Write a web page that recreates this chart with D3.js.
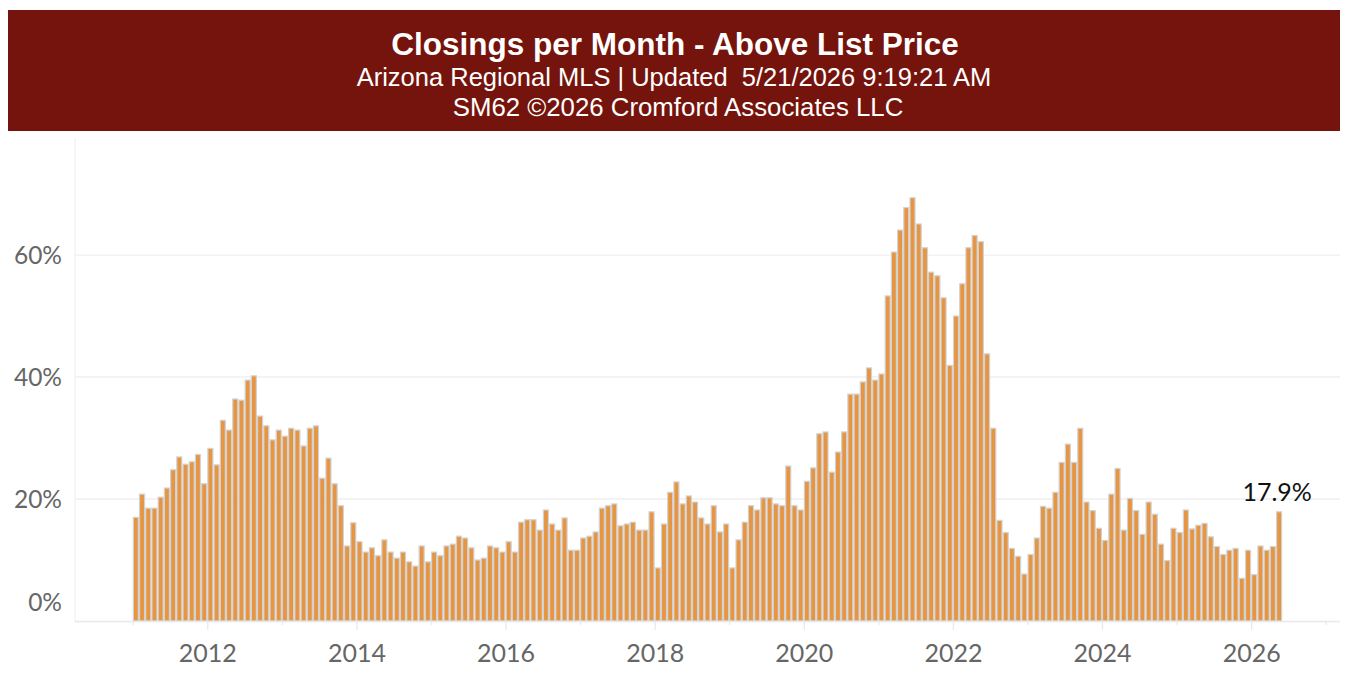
<!DOCTYPE html>
<html>
<head>
<meta charset="utf-8">
<script src="https://cdn.jsdelivr.net/npm/d3@7"></script>
<style>
  html, body { margin: 0; padding: 0; background: #ffffff; }
  svg { display: block; }
</style>
</head>
<body>
<svg id="chart" width="1352" height="694"></svg>
<script>
// ---------- DATA ----------
const titleText = "Closings per Month - Above List Price";
const subtitle1 = "Arizona Regional MLS | Updated  5/21/2026 9:19:21 AM";
const subtitle2 = "SM62 \u00A92026 Cromford Associates LLC";

const startYear = 2011;           // first bar = Jan 2011
const years = [2011, 2012, 2013, 2014, 2015, 2016, 2017, 2018, 2019, 2020, 2021, 2022, 2023, 2024, 2025, 2026, 2027];
const yearLabels = [2012, 2014, 2016, 2018, 2020, 2022, 2024, 2026];
const yTicks = [0, 20, 40, 60];

// percent of closings above list price, one value per month
const v2011 = [17.0, 20.8, 18.5, 18.5, 20.3, 21.8, 24.8, 26.9, 25.7, 26.1, 27.3, 22.5];
const v2012 = [28.3, 25.6, 32.9, 31.3, 36.4, 36.2, 39.5, 40.2, 33.6, 32.0, 29.7, 31.3];
const v2013 = [30.3, 31.6, 31.3, 28.7, 31.6, 32.0, 23.4, 26.7, 22.5, 18.9, 12.3, 16.1];
const v2014 = [13.0, 11.3, 12.0, 10.7, 13.3, 11.3, 10.3, 11.3, 9.7, 9.0, 12.3, 9.7];
const v2015 = [11.3, 10.7, 12.3, 12.6, 13.9, 13.6, 12.0, 10.0, 10.3, 12.3, 12.0, 11.3];
const v2016 = [13.0, 11.3, 16.2, 16.6, 16.6, 14.9, 18.2, 15.9, 14.9, 16.9, 11.6, 11.6];
const v2017 = [13.6, 13.9, 14.6, 18.5, 18.9, 19.2, 15.6, 15.9, 16.2, 14.9, 14.9, 17.9];
const v2018 = [8.7, 15.9, 21.1, 22.8, 19.2, 20.5, 19.5, 16.9, 15.9, 18.9, 14.6, 15.9];
const v2019 = [8.7, 13.3, 16.2, 18.9, 18.2, 20.2, 20.2, 19.2, 18.9, 25.4, 18.9, 18.2];
const v2020 = [22.9, 25.1, 30.7, 31.0, 24.4, 27.7, 31.0, 37.2, 37.2, 39.2, 41.5, 39.5];
const v2021 = [40.5, 53.3, 60.5, 64.1, 67.8, 69.4, 65.1, 61.2, 57.2, 56.6, 53.0, 41.9];
const v2022 = [50.0, 55.3, 61.2, 63.2, 62.2, 43.8, 31.6, 16.5, 14.5, 11.9, 10.6, 7.7];
const v2023 = [10.9, 13.6, 18.8, 18.5, 21.1, 26.0, 29.0, 26.0, 31.6, 19.5, 18.1, 15.2];
const v2024 = [13.2, 20.8, 25.0, 14.9, 20.1, 18.1, 14.2, 19.5, 17.5, 12.6, 9.9, 15.2];
const v2025 = [14.5, 18.2, 15.1, 15.7, 16.0, 13.8, 12.2, 10.9, 11.6, 11.9, 7.0, 11.6];
const v2026 = [7.6, 12.3, 11.6, 12.2, 17.9];

const values = [].concat(v2011, v2012, v2013, v2014, v2015, v2016, v2017, v2018,
  v2019, v2020, v2021, v2022, v2023, v2024, v2025, v2026);
const data = values.map((v, i) => ({ i: i, v: v }));

// ---------- LAYOUT ----------
const svg = d3.select("#chart");
const plot = { left: 75, right: 1340, top: 138, bottom: 621 };

// month index scale (0 = Jan 2011); uniform bar pitch
const x = d3.scaleLinear().domain([-9.29, 194.3]).range([plot.left, plot.right]);
const y = d3.scaleLinear().domain([0, 79.2]).range([plot.bottom, plot.top]);
const monthIdx = yr => (yr - startYear) * 12;

// ---------- HEADER ----------
svg.append("rect").attr("x", 8).attr("y", 10).attr("width", 1332).attr("height", 121)
  .attr("fill", "#75140c");
svg.append("text").attr("x", 675).attr("y", 55).attr("text-anchor", "middle")
  .attr("font-family", "Liberation Sans, Arial, sans-serif").attr("font-weight", "bold")
  .attr("font-size", 31.5).attr("fill", "#ffffff").text(titleText);
svg.append("text").attr("x", 674).attr("y", 86).attr("text-anchor", "middle")
  .attr("font-family", "Liberation Sans, Arial, sans-serif")
  .attr("font-size", 25.5).attr("fill", "#ffffff").attr("xml:space", "preserve")
  .style("white-space", "pre").text(subtitle1);
svg.append("text").attr("x", 678).attr("y", 116).attr("text-anchor", "middle")
  .attr("font-family", "Liberation Sans, Arial, sans-serif")
  .attr("font-size", 25.8).attr("fill", "#ffffff").text(subtitle2);

// ---------- GRID ----------
svg.append("g").selectAll("line").data(yTicks.filter(t => t > 0)).join("line")
  .attr("x1", plot.left).attr("x2", plot.right)
  .attr("y1", d => y(d)).attr("y2", d => y(d))
  .attr("stroke", "#efefef").attr("stroke-width", 1.4);

// left border
svg.append("line").attr("x1", plot.left).attr("x2", plot.left)
  .attr("y1", plot.top).attr("y2", plot.bottom)
  .attr("stroke", "#f0f0f0").attr("stroke-width", 1.2);

// ---------- BARS ----------
const pitch = x(1) - x(0);
svg.append("g").selectAll("rect").data(data).join("rect")
  .attr("x", d => x(d.i) + 0.6)
  .attr("width", pitch - 1.2)
  .attr("y", d => y(d.v))
  .attr("height", d => y(0) - y(d.v))
  .attr("fill", "#e69542")
  .attr("stroke", "#d2d2d2")
  .attr("stroke-width", 1.2);

// ---------- X AXIS ----------
const xAxisMinor = d3.axisBottom(x)
  .tickValues(years.filter(yr => yearLabels.indexOf(yr) < 0).map(monthIdx))
  .tickSize(4).tickFormat("");
const gMinor = svg.append("g").attr("transform", `translate(0,${plot.bottom})`).call(xAxisMinor);
gMinor.select(".domain").attr("stroke", "#e8e8e8").attr("stroke-width", 1.4)
  .attr("d", `M${plot.left},0.5H${plot.right}`);
gMinor.selectAll(".tick line").attr("stroke", "#e8e8e8").attr("stroke-width", 1.2);

const xAxisMajor = d3.axisBottom(x)
  .tickValues(yearLabels.map(monthIdx))
  .tickSize(9).tickPadding(14)
  .tickFormat((d) => String(startYear + d / 12));
const gMajor = svg.append("g").attr("transform", `translate(0,${plot.bottom})`).call(xAxisMajor);
gMajor.select(".domain").remove();
gMajor.selectAll(".tick line").attr("stroke", "#e8e8e8").attr("stroke-width", 1.2);
gMajor.selectAll(".tick text")
  .attr("font-family", "Lato, 'Open Sans', sans-serif").attr("font-size", 25)
  .attr("fill", "#666666");

// ---------- Y AXIS LABELS ----------
const yAxis = d3.axisLeft(y).tickValues(yTicks).tickSize(0).tickPadding(0)
  .tickFormat(d => d + "%");
const gY = svg.append("g").attr("transform", `translate(62,0)`).call(yAxis);
gY.select(".domain").remove();
gY.selectAll(".tick text")
  .attr("font-family", "Lato, 'Open Sans', sans-serif").attr("font-size", 24.5)
  .attr("fill", "#666666")
  .attr("dy", d => d === 0 ? "-0.42em" : "0.34em");

// ---------- LAST VALUE LABEL ----------
const last = data[data.length - 1];
svg.append("text")
  .attr("x", x(last.i + 0.5) - 2).attr("y", y(last.v) - 11)
  .attr("text-anchor", "middle")
  .attr("font-family", "Lato, 'Open Sans', sans-serif").attr("font-size", 25)
  .attr("fill", "#111111").text(last.v.toFixed(1) + "%");
</script>
</body>
</html>
